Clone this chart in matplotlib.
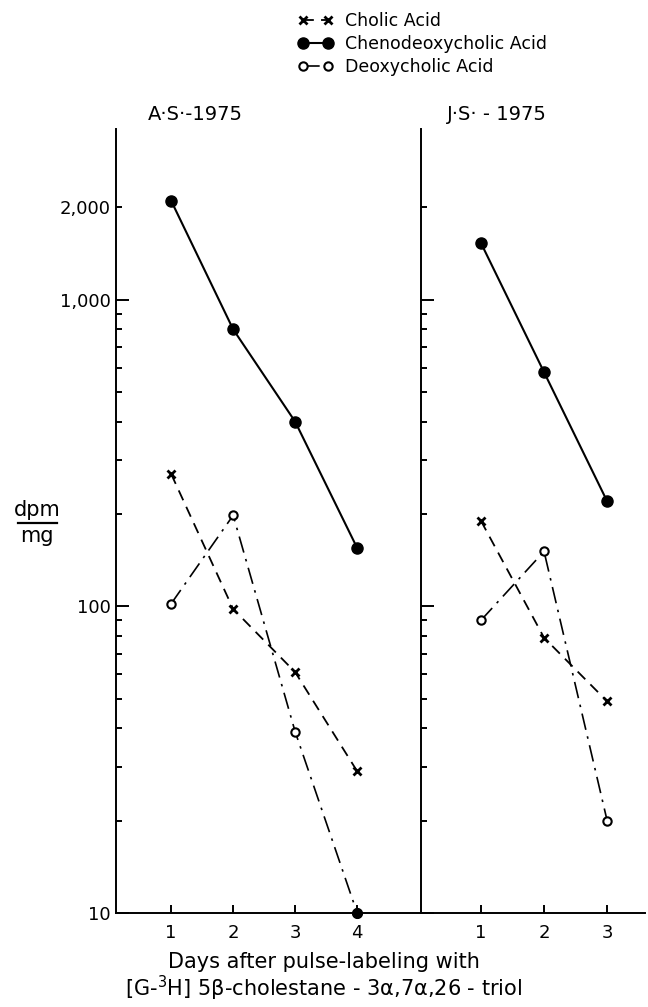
import matplotlib
matplotlib.use('Agg')
import matplotlib.pyplot as plt
from matplotlib.ticker import FixedLocator, FuncFormatter, NullFormatter
from matplotlib.lines import Line2D

plt.rcParams.update({
    'font.family': 'DejaVu Sans',
    'font.size': 12,
    'axes.linewidth': 1.4,
})

# A.S. 1975
days_as = [1, 2, 3, 4]
cholic_as = [270, 98, 61, 29]
cheno_as = [2100, 800, 400, 155]
deoxy_as = [102, 198, 39, 10]

# J.S. 1975
days_js = [1, 2, 3]
cholic_js = [190, 79, 49]
cheno_js = [1530, 580, 220]
deoxy_js = [90, 151, 20]

major_y = [10, 100, 1000]
minor_y = [20, 30, 40, 50, 60, 70, 80, 90,
           200, 300, 400, 500, 600, 700, 800, 900, 2000]
y_labels = {10: '10', 100: '100', 1000: '1,000', 2000: '2,000'}

W, H = 648, 1007
fig = plt.figure(figsize=(W / 100, H / 100), dpi=100)

bottom = 1 - 913 / H
height = (913 - 129) / H
ax1 = fig.add_axes([116 / W, bottom, (421 - 116) / W, height])
ax2 = fig.add_axes([421 / W, bottom, (645 - 421) / W, height])

styles = {
    'cholic': dict(color='black', lw=1.3, linestyle=(0, (6, 4)), marker='x', ms=6, mew=2),
    'cheno': dict(color='black', lw=1.5, linestyle='-', marker='o', ms=8, mfc='black'),
    'deoxy': dict(color='black', lw=1.2, linestyle=(0, (10, 4, 1.5, 4)), marker='o', ms=6,
                  mfc='white', mew=1.5),
}

h1, = ax1.plot(days_as, cholic_as, clip_on=False, label='Cholic Acid', **styles['cholic'])
h2, = ax1.plot(days_as, cheno_as, clip_on=False, label='Chenodeoxycholic Acid', **styles['cheno'])
h3, = ax1.plot(days_as, deoxy_as, clip_on=False, label='Deoxycholic Acid', **styles['deoxy'])
# last A.S. deoxycholic point sits on the axis and prints as a solid dot
ax1.plot(days_as[-1:], deoxy_as[-1:], 'o', color='black', ms=7, clip_on=False)

ax2.plot(days_js, cholic_js, clip_on=False, **styles['cholic'])
ax2.plot(days_js, cheno_js, clip_on=False, **styles['cheno'])
ax2.plot(days_js, deoxy_js, clip_on=False, **styles['deoxy'])

ax1.set_xlim(0.11, 5.03)
ax2.set_xlim(0.05, 3.6)

for ax in (ax1, ax2):
    ax.set_yscale('log')
    ax.set_ylim(10, 3600)
    ax.spines['top'].set_visible(False)
    ax.spines['right'].set_visible(False)
    ax.yaxis.set_major_locator(FixedLocator(major_y))
    ax.yaxis.set_minor_locator(FixedLocator(minor_y))
    ax.tick_params(axis='y', which='major', direction='in', length=9, width=1.4, pad=4, labelsize=13)
    ax.tick_params(axis='y', which='minor', direction='in', length=4.5, width=1.4, pad=4, labelsize=13)
    ax.tick_params(axis='x', which='major', direction='in', length=6, width=1.4, pad=8, labelsize=13)
    ax.patch.set_alpha(0)

ax1.set_xticks(days_as)
ax2.set_xticks(days_js)

fmt = FuncFormatter(lambda v, pos: y_labels.get(int(round(v)), ''))
ax1.yaxis.set_major_formatter(fmt)
ax1.yaxis.set_minor_formatter(fmt)
ax2.yaxis.set_major_formatter(NullFormatter())
ax2.yaxis.set_minor_formatter(NullFormatter())

# panel titles
fig.text(195 / W, 1 - 115 / H, 'A·S·-1975', ha='center', va='center', fontsize=14)
fig.text(497 / W, 1 - 115 / H, 'J·S· - 1975', ha='center', va='center', fontsize=14)

# y label as fraction
fig.text(37 / W, 1 - 510 / H, 'dpm', ha='center', va='center', fontsize=15)
fig.add_artist(Line2D([18 / W, 57 / W], [1 - 523 / H, 1 - 523 / H], color='black', lw=1.6))
fig.text(37 / W, 1 - 536 / H, 'mg', ha='center', va='center', fontsize=15)

# x label
fig.text(0.5, 1 - 962 / H, 'Days after pulse-labeling with', ha='center', va='center', fontsize=15)
fig.text(0.5, 1 - 988 / H, '[G-$^{3}$H] 5β-cholestane - 3α,7α,26 - triol',
         ha='center', va='center', fontsize=15)

fig.legend(handles=[h1, h2, h3], loc='upper left', bbox_to_anchor=(298 / W, 1 - 12 / H),
           frameon=False, fontsize=12.5, numpoints=2, handlelength=2.0, handletextpad=0.7,
           labelspacing=0.3, borderaxespad=0, borderpad=0)

fig.savefig('out.png', dpi=100)
